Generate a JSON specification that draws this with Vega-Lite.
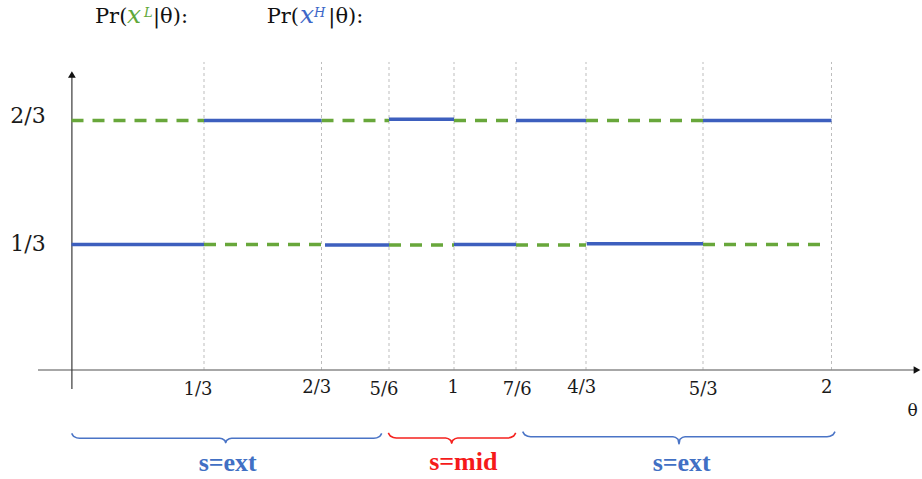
{
  "$schema": "https://vega.github.io/schema/vega-lite/v6.json",
  "width": 922,
  "height": 479,
  "autosize": {"type": "none"},
  "padding": 0,
  "background": "white",
  "config": {"view": {"stroke": null}},
  "datasets": {
    "segs": [
      {"series": "L", "x0": 0, "x1": 0.33333, "p": 0.66667},
      {"series": "H", "x0": 0.33333, "x1": 0.66667, "p": 0.66667},
      {"series": "L", "x0": 0.66667, "x1": 0.83333, "p": 0.66667},
      {"series": "H", "x0": 0.83333, "x1": 1, "p": 0.67},
      {"series": "L", "x0": 1, "x1": 1.16667, "p": 0.66667},
      {"series": "H", "x0": 1.16667, "x1": 1.33333, "p": 0.66667},
      {"series": "L", "x0": 1.33333, "x1": 1.66667, "p": 0.66667},
      {"series": "H", "x0": 1.66667, "x1": 2, "p": 0.66667},
      {"series": "H", "x0": 0, "x1": 0.33333, "p": 0.33333},
      {"series": "L", "x0": 0.33333, "x1": 0.66667, "p": 0.333},
      {"series": "H", "x0": 0.6753, "x1": 0.83333, "p": 0.332},
      {"series": "L", "x0": 0.83333, "x1": 1, "p": 0.332},
      {"series": "H", "x0": 1, "x1": 1.16667, "p": 0.33333},
      {"series": "L", "x0": 1.16667, "x1": 1.33333, "p": 0.332},
      {"series": "H", "x0": 1.3355, "x1": 1.66667, "p": 0.3355},
      {"series": "L", "x0": 1.66667, "x1": 1.98, "p": 0.33333}
    ],
    "grid": [
      {"t": 0.33333, "v0": 0, "v1": 0.824},
      {"t": 0.66667, "v0": 0, "v1": 0.824},
      {"t": 0.83333, "v0": 0, "v1": 0.824},
      {"t": 1, "v0": 0, "v1": 0.824},
      {"t": 1.16667, "v0": 0, "v1": 0.824},
      {"t": 1.33333, "v0": 0, "v1": 0.824},
      {"t": 1.66667, "v0": 0, "v1": 0.824},
      {"t": 2, "v0": 0, "v1": 0.824}
    ],
    "xaxis": [{"t0": -0.0843, "t1": 2.2192, "v": 0}],
    "yaxis": [{"t": 0.001, "v0": -0.0505, "v1": 0.7903}],
    "xarrow": [{"t": 2.2218, "v": 0}],
    "yarrow": [{"t": 0.001, "v": 0.7903}],
    "ticks": [
      {"text": "1/3", "t": 0.3182, "v": -0.0531},
      {"text": "2/3", "t": 0.653, "v": -0.0478},
      {"text": "5/6", "t": 0.821, "v": -0.0531},
      {"text": "1", "t": 0.9982, "v": -0.0478},
      {"text": "7/6", "t": 1.1698, "v": -0.0531},
      {"text": "4/3", "t": 1.3231, "v": -0.0478},
      {"text": "5/3", "t": 1.6675, "v": -0.0531},
      {"text": "2", "t": 1.9876, "v": -0.0478}
    ],
    "ylabs": [
      {"text": "2/3", "t": -0.1094, "v": 0.6788},
      {"text": "1/3", "t": -0.1094, "v": 0.336}
    ],
    "thetalab": [{"text": "θ", "t": 2.2106, "v": -0.1081}],
    "titlePlain": [
      {"text": "Pr(", "t": 0.0591, "v": 0.928},
      {"text": "|θ):", "t": 0.205, "v": 0.928},
      {"text": "Pr(", "t": 0.5112, "v": 0.928},
      {"text": "|θ):", "t": 0.6835, "v": 0.928}
    ],
    "titleX": [
      {"series": "L", "text": "x", "t": 0.1396, "v": 0.928},
      {"series": "H", "text": "x", "t": 0.6057, "v": 0.928}
    ],
    "titleSup": [
      {"series": "L", "text": "L", "t": 0.1824, "v": 0.9457},
      {"series": "H", "text": "H", "t": 0.6454, "v": 0.9457}
    ],
    "braces": [
      {"b": "b1", "s": "ext", "i": 0, "t": 0.0005, "v": -0.1681},
      {"b": "b1", "s": "ext", "i": 1, "t": 0.0055, "v": -0.1761},
      {"b": "b1", "s": "ext", "i": 2, "t": 0.0206, "v": -0.1814},
      {"b": "b1", "s": "ext", "i": 3, "t": 0.3779, "v": -0.1814},
      {"b": "b1", "s": "ext", "i": 4, "t": 0.392, "v": -0.187},
      {"b": "b1", "s": "ext", "i": 5, "t": 0.3949, "v": -0.1931},
      {"b": "b1", "s": "ext", "i": 6, "t": 0.3977, "v": -0.187},
      {"b": "b1", "s": "ext", "i": 7, "t": 0.4119, "v": -0.1814},
      {"b": "b1", "s": "ext", "i": 8, "t": 0.7956, "v": -0.1814},
      {"b": "b1", "s": "ext", "i": 9, "t": 0.8104, "v": -0.1761},
      {"b": "b1", "s": "ext", "i": 10, "t": 0.8153, "v": -0.1681},
      {"b": "m", "s": "mid", "i": 0, "t": 0.8316, "v": -0.1673},
      {"b": "m", "s": "mid", "i": 1, "t": 0.8367, "v": -0.1753},
      {"b": "m", "s": "mid", "i": 2, "t": 0.852, "v": -0.1806},
      {"b": "m", "s": "mid", "i": 3, "t": 0.9787, "v": -0.1806},
      {"b": "m", "s": "mid", "i": 4, "t": 0.9915, "v": -0.187},
      {"b": "m", "s": "mid", "i": 5, "t": 0.9941, "v": -0.1947},
      {"b": "m", "s": "mid", "i": 6, "t": 0.9967, "v": -0.187},
      {"b": "m", "s": "mid", "i": 7, "t": 1.0099, "v": -0.1806},
      {"b": "m", "s": "mid", "i": 8, "t": 1.1444, "v": -0.1806},
      {"b": "m", "s": "mid", "i": 9, "t": 1.1605, "v": -0.1753},
      {"b": "m", "s": "mid", "i": 10, "t": 1.1659, "v": -0.1673},
      {"b": "b2", "s": "ext", "i": 0, "t": 1.1826, "v": -0.1639},
      {"b": "b2", "s": "ext", "i": 1, "t": 1.1874, "v": -0.1719},
      {"b": "b2", "s": "ext", "i": 2, "t": 1.2017, "v": -0.1772},
      {"b": "b2", "s": "ext", "i": 3, "t": 1.5812, "v": -0.1772},
      {"b": "b2", "s": "ext", "i": 4, "t": 1.5954, "v": -0.184},
      {"b": "b2", "s": "ext", "i": 5, "t": 1.5983, "v": -0.1965},
      {"b": "b2", "s": "ext", "i": 6, "t": 1.6011, "v": -0.184},
      {"b": "b2", "s": "ext", "i": 7, "t": 1.6154, "v": -0.1772},
      {"b": "b2", "s": "ext", "i": 8, "t": 1.9883, "v": -0.1772},
      {"b": "b2", "s": "ext", "i": 9, "t": 2.0039, "v": -0.1719},
      {"b": "b2", "s": "ext", "i": 10, "t": 2.0091, "v": -0.1639}
    ],
    "brlab": [
      {"s": "ext", "text": "s=ext", "t": 0.4006, "v": -0.247},
      {"s": "mid", "text": "s=mid", "t": 1.025, "v": -0.2445},
      {"s": "ext", "text": "s=ext", "t": 1.606, "v": -0.247}
    ]
  },
  "resolve": {"scale": {"color": "independent"}},
  "layer": [
    {
      "data": {"name": "grid"},
      "mark": {"type": "rule", "color": "#bdbdbd", "strokeWidth": 1, "strokeDash": [3, 3]},
      "encoding": {
        "x": {"field": "t", "type": "quantitative", "axis": null,
              "scale": {"domain": [0, 0.33333, 0.66667, 0.83333, 1, 1.16667, 1.33333, 1.66667, 2],
                        "range": [71.5, 204, 321.5, 389, 454, 516, 586, 703, 831.5], "nice": false, "zero": false}},
        "y": {"field": "v0", "type": "quantitative", "axis": null,
              "scale": {"domain": [0, 0.33333, 0.66667], "range": [370, 244.5, 120.5], "nice": false, "zero": false}},
        "y2": {"field": "v1"}
      }
    },
    {
      "data": {"name": "xaxis"},
      "mark": {"type": "rule", "color": "#8a8a8a", "strokeWidth": 1.5},
      "encoding": {
        "x": {"field": "t0", "type": "quantitative"},
        "x2": {"field": "t1"},
        "y": {"field": "v", "type": "quantitative"}
      }
    },
    {
      "data": {"name": "yaxis"},
      "mark": {"type": "rule", "color": "#3a3a3a", "strokeWidth": 1.2},
      "encoding": {
        "x": {"field": "t", "type": "quantitative"},
        "y": {"field": "v0", "type": "quantitative"},
        "y2": {"field": "v1"}
      }
    },
    {
      "data": {"name": "xarrow"},
      "mark": {"type": "point", "shape": "triangle-right", "filled": true, "color": "#111111", "size": 60, "opacity": 1},
      "encoding": {
        "x": {"field": "t", "type": "quantitative"},
        "y": {"field": "v", "type": "quantitative"}
      }
    },
    {
      "data": {"name": "yarrow"},
      "mark": {"type": "point", "shape": "triangle-up", "filled": true, "color": "#111111", "size": 60, "opacity": 1},
      "encoding": {
        "x": {"field": "t", "type": "quantitative"},
        "y": {"field": "v", "type": "quantitative"}
      }
    },
    {
      "data": {"name": "segs"},
      "transform": [{"filter": "datum.series === 'L'"}],
      "mark": {"type": "rule", "color": "#68a73b", "strokeWidth": 3.5, "strokeDash": [12, 9], "strokeCap": "butt"},
      "encoding": {
        "x": {"field": "x0", "type": "quantitative"},
        "x2": {"field": "x1"},
        "y": {"field": "p", "type": "quantitative"}
      }
    },
    {
      "data": {"name": "segs"},
      "transform": [{"filter": "datum.series === 'H'"}],
      "mark": {"type": "rule", "color": "#3d5fbe", "strokeWidth": 3.5, "strokeCap": "butt"},
      "encoding": {
        "x": {"field": "x0", "type": "quantitative"},
        "x2": {"field": "x1"},
        "y": {"field": "p", "type": "quantitative"}
      }
    },
    {
      "data": {"name": "braces"},
      "mark": {"type": "line", "strokeWidth": 1.6, "interpolate": "monotone"},
      "encoding": {
        "x": {"field": "t", "type": "quantitative"},
        "y": {"field": "v", "type": "quantitative"},
        "detail": {"field": "b"},
        "order": {"field": "i", "type": "quantitative"},
        "color": {"field": "s", "type": "nominal", "legend": null,
                  "scale": {"domain": ["ext", "mid"], "range": ["#4a74c6", "#f5221e"]}}
      }
    },
    {
      "data": {"name": "brlab"},
      "mark": {"type": "text", "font": "Liberation Serif", "fontWeight": "bold", "fontSize": 26, "align": "center", "baseline": "middle"},
      "encoding": {
        "x": {"field": "t", "type": "quantitative"},
        "y": {"field": "v", "type": "quantitative"},
        "text": {"field": "text"},
        "color": {"field": "s", "type": "nominal", "legend": null,
                  "scale": {"domain": ["ext", "mid"], "range": ["#4170c4", "#f51a1a"]}}
      }
    },
    {
      "data": {"name": "ticks"},
      "mark": {"type": "text", "font": "DejaVu Serif", "fontSize": 18, "align": "center", "baseline": "middle", "color": "#1a1a1a"},
      "encoding": {
        "x": {"field": "t", "type": "quantitative"},
        "y": {"field": "v", "type": "quantitative"},
        "text": {"field": "text"}
      }
    },
    {
      "data": {"name": "ylabs"},
      "mark": {"type": "text", "font": "DejaVu Serif", "fontSize": 22, "align": "center", "baseline": "middle", "color": "#1a1a1a"},
      "encoding": {
        "x": {"field": "t", "type": "quantitative"},
        "y": {"field": "v", "type": "quantitative"},
        "text": {"field": "text"}
      }
    },
    {
      "data": {"name": "thetalab"},
      "mark": {"type": "text", "font": "DejaVu Serif", "fontSize": 17, "align": "center", "baseline": "middle", "color": "#1a1a1a"},
      "encoding": {
        "x": {"field": "t", "type": "quantitative"},
        "y": {"field": "v", "type": "quantitative"},
        "text": {"field": "text"}
      }
    },
    {
      "data": {"name": "titlePlain"},
      "mark": {"type": "text", "font": "DejaVu Serif", "fontSize": 21, "align": "left", "baseline": "alphabetic", "color": "#111111"},
      "encoding": {
        "x": {"field": "t", "type": "quantitative"},
        "y": {"field": "v", "type": "quantitative"},
        "text": {"field": "text"}
      }
    },
    {
      "data": {"name": "titleX"},
      "mark": {"type": "text", "font": "DejaVu Serif", "fontStyle": "italic", "fontSize": 25, "align": "left", "baseline": "alphabetic"},
      "encoding": {
        "x": {"field": "t", "type": "quantitative"},
        "y": {"field": "v", "type": "quantitative"},
        "text": {"field": "text"},
        "color": {"field": "series", "type": "nominal", "legend": null,
                  "scale": {"domain": ["L", "H"], "range": ["#5fa83a", "#3d67c8"]}}
      }
    },
    {
      "data": {"name": "titleSup"},
      "mark": {"type": "text", "font": "DejaVu Serif", "fontStyle": "italic", "fontSize": 13, "align": "left", "baseline": "alphabetic"},
      "encoding": {
        "x": {"field": "t", "type": "quantitative"},
        "y": {"field": "v", "type": "quantitative"},
        "text": {"field": "text"},
        "color": {"field": "series", "type": "nominal", "legend": null,
                  "scale": {"domain": ["L", "H"], "range": ["#5fa83a", "#3d67c8"]}}
      }
    }
  ]
}
